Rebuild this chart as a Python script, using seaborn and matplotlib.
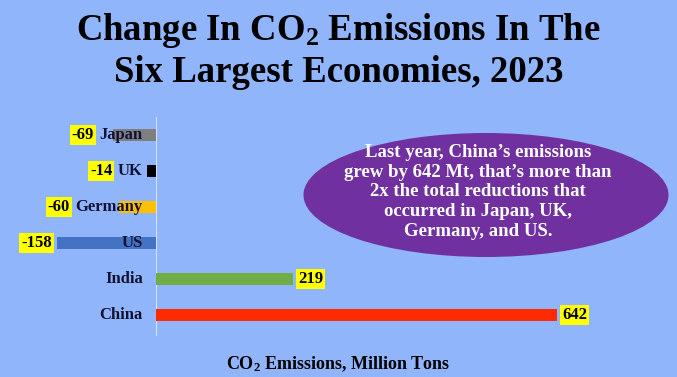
import matplotlib
matplotlib.use("Agg")
from matplotlib import pyplot as plt
from matplotlib.patches import Ellipse
import numpy as np
import pandas
import seaborn as sns

# data
countries = ["Japan", "UK", "Germany", "US", "India", "China"]
change_mt = [-69, -14, -60, -158, 219, 642]
bar_colors = ["#7f7f7f", "#000000", "#ffc000", "#4472c4", "#70ad47", "#ff2a00"]
title_lines = ["Change In CO$_2$ Emissions In The", "Six Largest Economies, 2023"]
note_text = ("Last year, China\u2019s emissions\ngrew by 642 Mt, that\u2019s more than\n"
             "2x the total reductions that\noccurred in Japan, UK,\nGermany, and US.")
xlabel_text = "CO$_2$ Emissions, Million Tons"

bg = "#91b5fb"
df = pandas.DataFrame({"country": countries, "change": change_mt})

sns.set_style("white")
plt.rcParams["font.family"] = ["Liberation Serif", "DejaVu Serif"]
plt.rcParams["font.weight"] = "bold"
plt.rcParams["mathtext.fontset"] = "custom"
plt.rcParams["mathtext.rm"] = "Liberation Serif:bold"
plt.rcParams["mathtext.it"] = "Liberation Serif:bold"
plt.rcParams["mathtext.bf"] = "Liberation Serif:bold"

fig = plt.figure(figsize=(6.77, 3.77), dpi=100, facecolor=bg)
ax = fig.add_axes([0, 0, 1, 1], facecolor=bg)

sns.barplot(data=df, y="country", x="change", hue="country", palette=bar_colors,
            orient="h", width=0.36, legend=False, ax=ax, saturation=1,
            linewidth=0, edgecolor="none")

# map: zero at pixel 156, 0.625 px per Mt; rows 36 px apart starting at 135
ax.set_xlim(-156 / 0.625, (677 - 156) / 0.625)
ax.set_ylim((377 - 135) / 36, -135 / 36)
ax.axis("off")
ax.plot([0, 0], [-0.5, 5.55], color="#d4e2fc", lw=0.8, zorder=0)

fig.canvas.draw()
renderer = fig.canvas.get_renderer()
inv = ax.transData.inverted()
for i, (name, val) in enumerate(zip(countries, change_mt)):
    t = ax.text(-21, i, name, ha="right", va="center", fontsize=12,
                fontweight="bold", color="#111133", zorder=5)
    if val < 0:
        bb = t.get_window_extent(renderer)
        left = inv.transform((bb.x0, 0))[0]
        xpos = min(val, left) - 9
        ax.text(xpos, i, str(val), ha="right", va="center", fontsize=12,
                fontweight="bold", color="black", zorder=6,
                bbox=dict(boxstyle="square,pad=0.12", fc="#ffff00", ec="none"))
    else:
        ax.text(val + 8, i, str(val), ha="left", va="center", fontsize=12,
                fontweight="bold", color="black", zorder=6,
                bbox=dict(boxstyle="square,pad=0.12", fc="#ffff00", ec="none"))

# callout
ell = Ellipse((486 / 677, 1 - 195 / 377), 365 / 677, 124 / 377,
              transform=fig.transFigure, fc="#7030a0", ec="none", zorder=3)
fig.add_artist(ell)
fig.text(478 / 677, 1 - 192 / 377, note_text, ha="center", va="center",
         fontsize=13.5, fontweight="bold", color="white", linespacing=1.22, zorder=4)

# title and axis caption
fig.text(0.5, 1 - 30 / 377, title_lines[0], ha="center", va="center",
         fontsize=26.5, fontweight="bold", color="black")
fig.text(0.5, 1 - 72 / 377, title_lines[1], ha="center", va="center",
         fontsize=26.5, fontweight="bold", color="black")
fig.text(0.5, 1 - 364 / 377, xlabel_text, ha="center", va="center",
         fontsize=13, fontweight="bold", color="black")

fig.savefig("out.png", dpi=100, facecolor=bg)
